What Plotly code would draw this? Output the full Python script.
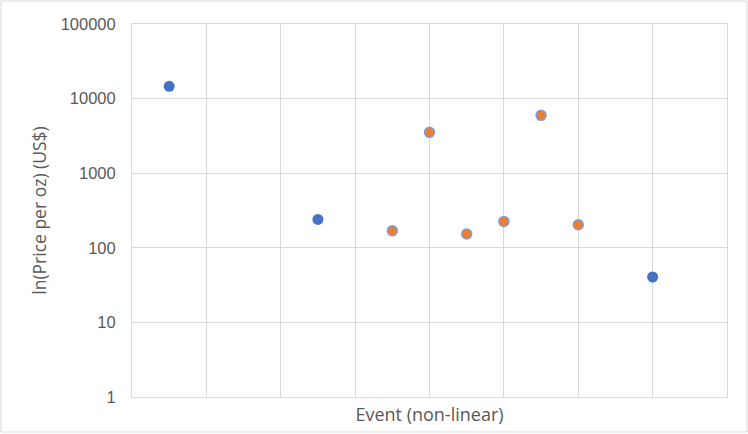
import plotly.graph_objects as go

# Data
blue_x = [0.5, 2.5, 7]
blue_y = [14600, 240, 40.6]
orange_x = [3.5, 4, 4.5, 5, 5.5, 6]
orange_y = [169, 3530, 153, 226, 5970, 204]
y_tick_vals = [1, 10, 100, 1000, 10000, 100000]
y_tick_text = ["1", "10", "100", "1000", "10000", "100000"]

BLUE = "#4472C4"
ORANGE = "#ED7D31"
GRID = "#D9D9D9"
TXT = "#595959"
TICK_FONT = "Liberation Sans"
TITLE_FONT = "Open Sans"

fig = go.Figure()
fig.add_trace(go.Scatter(
    x=blue_x, y=blue_y, mode="markers",
    marker=dict(color=BLUE, size=11, line=dict(width=0)),
    showlegend=False, hoverinfo="x+y"))
fig.add_trace(go.Scatter(
    x=orange_x, y=orange_y, mode="markers",
    marker=dict(color=ORANGE, size=10, line=dict(color="#7F9FD9", width=1.5)),
    showlegend=False, hoverinfo="x+y"))

fig.update_layout(
    width=748, height=434,
    margin=dict(l=132, r=21, t=24, b=37),
    paper_bgcolor="white", plot_bgcolor="white",
    font=dict(family=TICK_FONT, size=16.5, color=TXT),
    xaxis=dict(
        range=[0, 8], dtick=1, tick0=0, showticklabels=False,
        showgrid=True, gridcolor=GRID, gridwidth=1,
        showline=True, linecolor=GRID, linewidth=1, mirror=True,
        zeroline=False, ticks="",
        title=dict(text="Event (non-linear)",
                   font=dict(family=TITLE_FONT, size=18, color=TXT), standoff=11),
    ),
    yaxis=dict(
        type="log", range=[0, 5],
        tickvals=y_tick_vals, ticktext=y_tick_text,
        showgrid=True, gridcolor=GRID, gridwidth=1,
        showline=True, linecolor=GRID, linewidth=1, mirror=True,
        zeroline=False, ticks="outside", ticklen=12, tickcolor="rgba(0,0,0,0)",
        tickfont=dict(family=TICK_FONT, size=16.5, color=TXT),
        title=dict(text="ln(Price per oz) (US$)",
                   font=dict(family=TITLE_FONT, size=17.5, color=TXT), standoff=9),
    ),
    shapes=[dict(type="rect", xref="paper", yref="paper",
                 x0=-131/595, x1=1 + 20/595, y0=-35/373, y1=1 + 23/373,
                 line=dict(color=GRID, width=1), fillcolor="rgba(0,0,0,0)", layer="below")],
)

fig.write_html("out.html", config={"displayModeBar": False},
               post_script="document.body.style.margin='0px';")
